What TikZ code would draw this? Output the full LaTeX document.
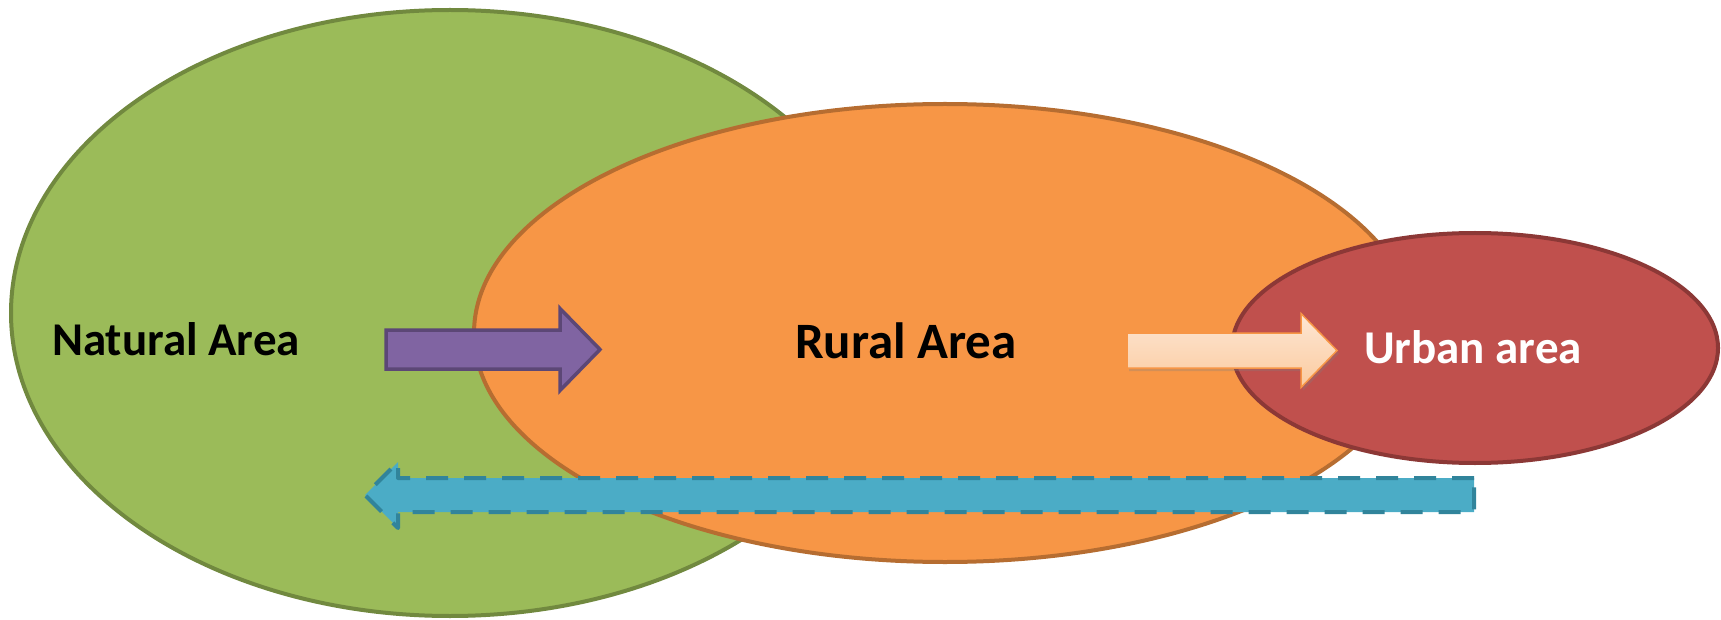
\documentclass[tikz,border=0pt]{standalone}
\usepackage{fontspec}
\setmainfont{Carlito}
\usetikzlibrary{shapes.geometric,shadows}

\definecolor{natfill}{HTML}{9BBB59}
\definecolor{natline}{HTML}{71893F}
\definecolor{rurfill}{HTML}{F79646}
\definecolor{rurline}{HTML}{B66D31}
\definecolor{urbfill}{HTML}{C0504D}
\definecolor{urbline}{HTML}{8C3836}
\definecolor{purfill}{HTML}{8064A2}
\definecolor{purline}{HTML}{5C4776}
\definecolor{peachtop}{HTML}{FDE6D4}
\definecolor{peachbot}{HTML}{FBCB9F}
\definecolor{bluefill}{HTML}{4BACC6}
\definecolor{blueline}{HTML}{31849B}

% block arrow: style, tail x, head base x, tip x, mid y, shaft half, head half
\providecommand{\blockarrow}[7]{%
  \draw[#1] (#2,#5-#6) -- (#3,#5-#6) -- (#3,#5-#7) -- (#4,#5)
    -- (#3,#5+#7) -- (#3,#5+#6) -- (#2,#5+#6) -- cycle;}

\begin{document}
\begin{tikzpicture}[x=1pt, y=-1pt]
\tikzset{
  area/.style = {ellipse, draw, line width=4pt, inner sep=0pt},
  areatext/.style = {anchor=base, font=\fontsize{47}{56}\selectfont\bfseries},
}
\useasboundingbox (0,0) rectangle (1721,620);

  % the three areas
  \node[area, fill=natfill, draw=natline, minimum width=878pt,
        minimum height=606pt] (natural) at (450,313) {};
  \node[area, fill=rurfill, draw=rurline, minimum width=942pt,
        minimum height=458pt] (rural) at (945,333) {};
  \node[area, fill=urbfill, draw=urbline, minimum width=486pt,
        minimum height=230pt] (urban) at (1475,348) {};

  % arrows
  \blockarrow{fill=purfill, draw=purline, line width=3.5pt, line join=miter}%
    {386}{560}{600}{349.5}{19.5}{41}
  \blockarrow{top color=peachtop, bottom color=peachbot, draw=rurfill,
    line width=1.5pt, drop shadow={opacity=0.3, shadow xshift=2pt,
    shadow yshift=-3pt}}%
    {1127}{1301}{1337}{350.5}{17.5}{37}
  \blockarrow{fill=bluefill, draw=blueline, line width=4pt,
    dash pattern=on 22pt off 16pt, line join=round}%
    {1474}{398}{365}{495}{17}{33}

  % labels
  \node[areatext] (natural-txt) at (176,355) {Natural Area};
  \node[areatext, font=\fontsize{51}{60}\selectfont\bfseries]
    (rural-txt) at (906,358) {Rural Area};
  \node[areatext, text=white] (urban-txt) at (1473,363) {Urban area};

\end{tikzpicture}
\end{document}
